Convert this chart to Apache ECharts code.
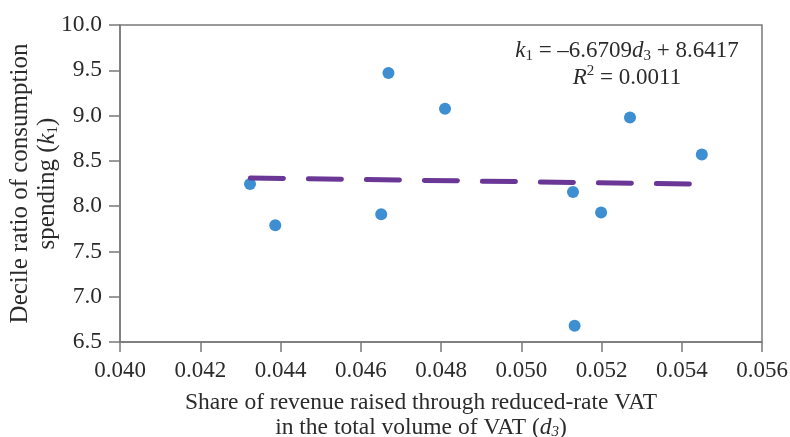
<!DOCTYPE html>
<html>
<head>
<meta charset="utf-8">
<script src="https://cdn.jsdelivr.net/npm/echarts@6/dist/echarts.min.js"></script>
<style>html,body{margin:0;padding:0;background:#fff;}#c{width:790px;height:437px;}</style>
</head>
<body>
<div id="c"></div>
<script>
const shareD3 = [0.04324, 0.04387, 0.04651, 0.04669, 0.04810, 0.05129, 0.05133, 0.05199, 0.05271, 0.05450];
const ratioK1 = [8.245, 7.79, 7.91, 9.47, 9.075, 8.155, 6.68, 7.93, 8.98, 8.57];
const trendX = [0.04325, 0.05420];
const trendY = [8.31, 8.245];
const xTicks = {min: 0.040, max: 0.056, step: 0.002};
const yTicks = {min: 6.5, max: 10.0, step: 0.5};

const FONT = '"Liberation Serif", "DejaVu Serif", serif';
const chart = echarts.init(document.getElementById('c'), null, {renderer: 'canvas'});
const axisCol = '#7a7a7a';
const txt = '#2b2b2b';

chart.setOption({
  animation: false,
  grid: {left: 120, right: 28, top: 25, bottom: 95, outerBoundsMode: 'none', containLabel: false,
         show: true, borderColor: axisCol, borderWidth: 1.5, backgroundColor: 'transparent'},
  xAxis: {
    type: 'value', min: xTicks.min, max: xTicks.max, interval: xTicks.step,
    axisLine: {show: true, lineStyle: {color: axisCol, width: 1.5}},
    axisTick: {show: true, length: 10, lineStyle: {color: axisCol, width: 1.5}},
    splitLine: {show: false},
    axisLabel: {color: txt, fontFamily: FONT, fontSize: 23, margin: 17, formatter: v => v.toFixed(3)},
    name: '{a|Share of revenue raised through reduced-rate VAT}\n{a|in the total volume of VAT (}{i|d}{s|3}{a|)}',
    nameLocation: 'middle', nameGap: 48,
    nameTextStyle: {
      fontFamily: FONT, color: txt, fontSize: 23.5, lineHeight: 25, padding: [0, 40, 0, 0],
      rich: {
        a: {fontFamily: FONT, fontSize: 23.5, color: txt, lineHeight: 25},
        i: {fontFamily: FONT, fontSize: 23.5, color: txt, fontStyle: 'italic', lineHeight: 25},
        s: {fontFamily: FONT, fontSize: 15, color: txt, fontStyle: 'italic', verticalAlign: 'bottom', lineHeight: 18}
      }
    }
  },
  yAxis: {
    type: 'value', min: yTicks.min, max: yTicks.max, interval: yTicks.step,
    axisLine: {show: true, lineStyle: {color: axisCol, width: 1.5}},
    axisTick: {show: true, length: 11, lineStyle: {color: axisCol, width: 1.5}},
    splitLine: {show: false},
    axisLabel: {color: txt, fontFamily: FONT, fontSize: 23.5, margin: 18, formatter: v => v.toFixed(1)},
    name: '{a|Decile ratio of consumption}\n{a|spending (}{i|k}{s|1}{a|)}',
    nameLocation: 'middle', nameGap: 59, nameRotate: 90, nameMoveOverlap: false,
    nameTextStyle: {
      fontFamily: FONT, color: txt, fontSize: 25, lineHeight: 27,
      rich: {
        a: {fontFamily: FONT, fontSize: 25, color: txt, lineHeight: 27},
        i: {fontFamily: FONT, fontSize: 25, color: txt, fontStyle: 'italic', lineHeight: 27},
        s: {fontFamily: FONT, fontSize: 15, color: txt, verticalAlign: 'bottom', lineHeight: 20}
      }
    }
  },
  graphic: [
    {
      type: 'text', x: 627, y: 37, z: 100,
      style: {
        text: '{i|k}{s|1}{n| = –6.6709}{i|d}{s|3}{n| + 8.6417}\n{i|R}{p|2}{n| = 0.0011}',
        align: 'center', textAlign: 'center', verticalAlign: 'top', textVerticalAlign: 'top',
        rich: {
          n: {fontFamily: FONT, fontSize: 23, fill: txt, lineHeight: 27},
          i: {fontFamily: FONT, fontSize: 23, fill: txt, fontStyle: 'italic', lineHeight: 27},
          s: {fontFamily: FONT, fontSize: 15, fill: txt, verticalAlign: 'bottom', lineHeight: 20},
          p: {fontFamily: FONT, fontSize: 15, fill: txt, verticalAlign: 'top', lineHeight: 27}
        }
      }
    }
  ],
  series: [
    {
      type: 'line', data: trendX.map((x, i) => [x, trendY[i]]),
      symbol: 'none', z: 3,
      lineStyle: {color: '#6a3796', width: 5, type: [33, 25], cap: 'round'}
    },
    {
      type: 'scatter', data: shareD3.map((x, i) => [x, ratioK1[i]]),
      symbolSize: 12, z: 2,
      itemStyle: {color: '#3d8fd1', opacity: 1}
    }
  ]
});
</script>
</body>
</html>
